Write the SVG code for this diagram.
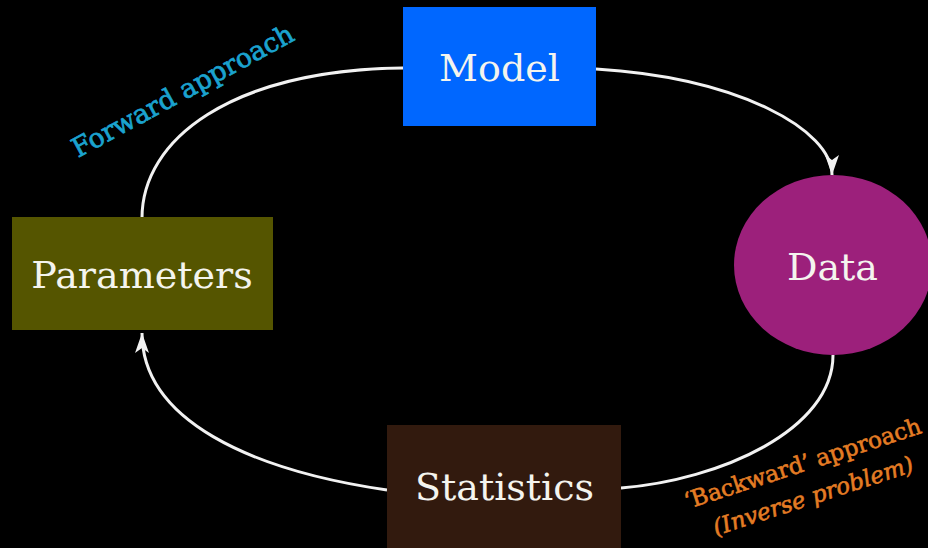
<svg xmlns="http://www.w3.org/2000/svg" width="928" height="548" viewBox="0 0 928 548">
<style>
.node-label{font-family:"DejaVu Serif","Liberation Serif",serif;font-size:38px;fill:#f4f4ee;text-anchor:middle}
.conn{fill:none;stroke:#f2f2f2;stroke-width:3}
.fwd{font-family:"DejaVu Serif","Liberation Serif",serif;font-size:26.5px;fill:#1ba3cf;stroke:#1ba3cf;stroke-width:0.7}
.bwd{font-family:"DejaVu Serif","Liberation Serif",serif;font-size:23px;fill:#e47c24;stroke:#e47c24;stroke-width:0.6;text-anchor:middle}
</style>
<defs>
<marker id="arrow" markerUnits="userSpaceOnUse" markerWidth="26" markerHeight="18" viewBox="-22 -9 26 18" refX="0" refY="0" orient="auto">
<path d="M0,0 L-20,-7 L-15,0 L-20,7 Z" fill="#f2f2f2"/>
</marker>
</defs>
<rect x="0" y="0" width="928" height="548" fill="#000"/>
<g id="connectors">
<path class="conn" d="M142,218 C142,140 230,70 403,68"/>
<path class="conn" d="M596,69 C740,78 832,130 832,175" marker-end="url(#arrow)"/>
<path class="conn" d="M833,355 C833,430 720,480 621,488"/>
<path class="conn" d="M387,490 C250,470 142,420 142,333" marker-end="url(#arrow)"/>
</g>
<g id="model">
<rect x="403" y="7" width="193" height="119" fill="#0067ff"/>
<text class="node-label" x="499.5" y="81">Model</text>
</g>
<g id="data">
<ellipse cx="833" cy="265" rx="99" ry="90" fill="#9c207b"/>
<text class="node-label" x="832.5" y="280">Data</text>
</g>
<g id="statistics">
<rect x="387" y="425" width="234" height="130" fill="#321a0e"/>
<text class="node-label" x="504.5" y="500">Statistics</text>
</g>
<g id="parameters">
<rect x="12" y="217" width="261" height="113" fill="#555500"/>
<text class="node-label" x="142" y="288">Parameters</text>
</g>
<g id="labels">
<text class="fwd" transform="translate(78,158) rotate(-28.5)">Forward approach</text>
<g transform="translate(805,471) rotate(-18)">
<text class="bwd" x="0" y="0">‘Backward’ approach</text>
<text class="bwd" x="0" y="34" font-style="italic">(Inverse problem)</text>
</g>
</g>
</svg>
